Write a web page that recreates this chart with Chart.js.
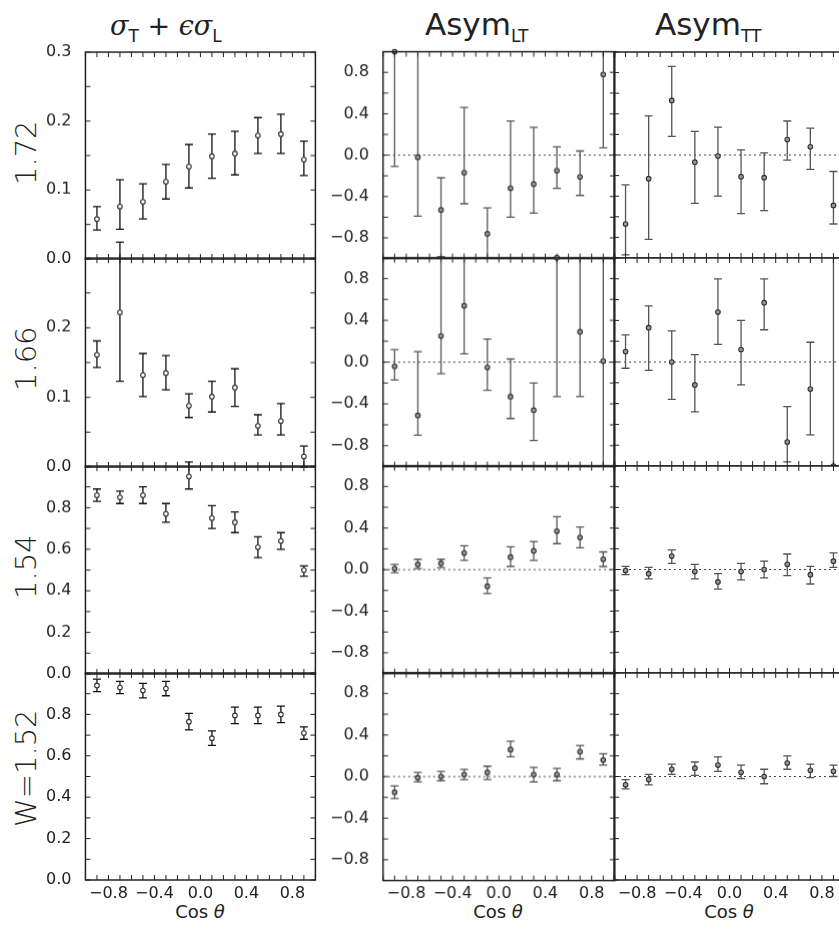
<!DOCTYPE html>
<html>
<head>
<meta charset="utf-8">
<script src="https://cdn.jsdelivr.net/npm/chart.js@4"></script>
<style>
body { margin:0; background:#fff; width:839px; height:933px; overflow:hidden; position:relative; font-family:"DejaVu Sans", Arial, sans-serif; }
.box { position:absolute; }
.lbl { position:absolute; color:#222; white-space:nowrap; }
.rot { transform:rotate(-90deg); transform-origin:center center; font-size:29px; font-family:"DejaVu Sans", sans-serif; font-weight:300; }
.ttl { font-size:27px; }
.ttl sub { font-size:17px; vertical-align:-7px; }
.cos { font-size:18px; width:120px; text-align:center; top:901px; }
</style>
</head>
<body>
<div class="lbl ttl" style="left:110px;top:10px;"><i style="font-family:'DejaVu Serif',serif">σ</i><sub>T</sub> + <i style="font-family:'DejaVu Serif',serif">ϵσ</i><sub>L</sub></div>
<div class="lbl ttl" style="left:425px;top:6px;font-size:31px;">Asym<sub>LT</sub></div>
<div class="lbl ttl" style="left:655px;top:6px;font-size:31px;">Asym<sub>TT</sub></div>
<div class="lbl rot" style="left:-4px;top:138px;width:60px;text-align:center;">1.72</div>
<div class="lbl rot" style="left:-4px;top:344px;width:60px;text-align:center;">1.66</div>
<div class="lbl rot" style="left:-4px;top:552px;width:60px;text-align:center;">1.54</div>
<div class="lbl rot" style="left:-26px;top:758px;width:104px;text-align:center;">W=1.52</div>
<div class="lbl cos" style="left:140px;">Cos <i>θ</i></div>
<div class="lbl cos" style="left:438px;">Cos <i>θ</i></div>
<div class="lbl cos" style="left:669px;">Cos <i>θ</i></div>

<script>
// Cos theta bin centres
const cosTheta = [-0.9, -0.7, -0.5, -0.3, -0.1, 0.1, 0.3, 0.5, 0.7, 0.9];

// sigma_T + eps sigma_L
const sig172 = [0.058, 0.076, 0.083, 0.112, 0.134, 0.149, 0.153, 0.179, 0.181, 0.144];
const sig172Lo = [0.042, 0.043, 0.058, 0.087, 0.103, 0.117, 0.122, 0.153, 0.153, 0.121];
const sig172Hi = [0.076, 0.115, 0.109, 0.137, 0.166, 0.181, 0.185, 0.205, 0.210, 0.171];
const sig166 = [0.161, 0.222, 0.132, 0.135, 0.088, 0.101, 0.114, 0.059, 0.066, 0.015];
const sig166Lo = [0.143, 0.123, 0.101, 0.111, 0.071, 0.079, 0.087, 0.046, 0.046, 0.0];
const sig166Hi = [0.181, 0.323, 0.163, 0.160, 0.105, 0.123, 0.141, 0.075, 0.091, 0.030];
const sig154 = [0.86, 0.85, 0.86, 0.77, 0.95, 0.75, 0.73, 0.61, 0.64, 0.50];
const sig154Lo = [0.83, 0.82, 0.82, 0.73, 0.89, 0.70, 0.68, 0.56, 0.60, 0.47];
const sig154Hi = [0.89, 0.88, 0.90, 0.82, 1.02, 0.81, 0.78, 0.66, 0.68, 0.52];
const sig152 = [0.94, 0.93, 0.915, 0.925, 0.765, 0.685, 0.795, 0.795, 0.80, 0.71];
const sig152Lo = [0.91, 0.90, 0.88, 0.89, 0.725, 0.65, 0.755, 0.755, 0.76, 0.68];
const sig152Hi = [0.97, 0.96, 0.95, 0.96, 0.805, 0.72, 0.835, 0.835, 0.84, 0.74];

// Asym LT
const lt172 = [1.0, -0.02, -0.53, -0.17, -0.76, -0.32, -0.28, -0.15, -0.21, 0.78];
const lt172Lo = [-0.11, -0.59, -0.98, -0.47, -1.2, -0.60, -0.56, -0.32, -0.39, 0.07];
const lt172Hi = [1.5, 1.2, -0.22, 0.46, -0.51, 0.33, 0.27, 0.08, 0.04, 1.2];
const lt166 = [-0.04, -0.51, 0.25, 0.54, -0.05, -0.33, -0.46, 1.0, 0.29, 0.01];
const lt166Lo = [-0.17, -0.70, -0.11, 0.08, -0.27, -0.54, -0.75, -0.33, -0.33, -1.5];
const lt166Hi = [0.12, 0.10, 1.2, 1.2, 0.22, 0.03, -0.20, 1.5, 1.2, 1.5];
const lt154 = [0.01, 0.05, 0.06, 0.16, -0.16, 0.12, 0.18, 0.37, 0.31, 0.10];
const lt154Lo = [-0.03, 0.01, 0.02, 0.09, -0.23, 0.03, 0.09, 0.25, 0.21, 0.03];
const lt154Hi = [0.05, 0.10, 0.10, 0.23, -0.08, 0.22, 0.27, 0.51, 0.41, 0.17];
const lt152 = [-0.15, -0.01, 0.00, 0.02, 0.04, 0.26, 0.02, 0.02, 0.24, 0.16];
const lt152Lo = [-0.21, -0.05, -0.04, -0.03, -0.03, 0.19, -0.05, -0.04, 0.17, 0.11];
const lt152Hi = [-0.09, 0.04, 0.05, 0.07, 0.10, 0.34, 0.09, 0.08, 0.30, 0.22];

// Asym TT
const tt172 = [-0.67, -0.23, 0.53, -0.07, -0.01, -0.21, -0.22, 0.15, 0.08, -0.49];
const tt172Lo = [-0.97, -0.82, 0.18, -0.47, -0.40, -0.57, -0.54, -0.05, -0.14, -0.67];
const tt172Hi = [-0.29, 0.38, 0.86, 0.23, 0.27, 0.05, 0.02, 0.33, 0.26, -0.16];
const tt166 = [0.10, 0.33, 0.00, -0.22, 0.48, 0.12, 0.57, -0.77, -0.26, -1.0];
const tt166Lo = [-0.06, -0.08, -0.36, -0.48, 0.17, -0.22, 0.31, -0.96, -0.70, -1.5];
const tt166Hi = [0.26, 0.54, 0.30, 0.07, 0.80, 0.40, 0.80, -0.43, 0.19, 1.5];
const tt154 = [-0.01, -0.04, 0.13, -0.02, -0.12, -0.02, 0.00, 0.05, -0.05, 0.08];
const tt154Lo = [-0.05, -0.09, 0.06, -0.09, -0.19, -0.10, -0.08, -0.06, -0.14, 0.02];
const tt154Hi = [0.03, 0.02, 0.19, 0.05, -0.04, 0.06, 0.08, 0.15, 0.03, 0.16];
const tt152 = [-0.08, -0.03, 0.07, 0.08, 0.11, 0.04, 0.00, 0.13, 0.06, 0.05];
const tt152Lo = [-0.12, -0.08, 0.02, 0.01, 0.05, -0.02, -0.07, 0.07, -0.01, 0.00];
const tt152Hi = [-0.03, 0.02, 0.12, 0.14, 0.19, 0.11, 0.07, 0.20, 0.12, 0.11];

const xTicks = [-0.8, -0.4, 0.0, 0.4, 0.8];
const sigTicksA = [0.0, 0.1, 0.2, 0.3];
const sigTicksB = [0.0, 0.1, 0.2];
const sigTicksC = [0.0, 0.2, 0.4, 0.6, 0.8];
const asymTicks = [-0.8, -0.4, 0.0, 0.4, 0.8];

const INK = '#333';
const FONT = '"DejaVu Sans", Arial, sans-serif';

// error bars, frame, inward tick marks, dotted zero line
const panelPlugin = {
    id: 'panel',
    beforeDatasetsDraw(chart, args, o) {
        const {ctx, chartArea: a, scales: {x, y}} = chart;
        ctx.save();
        if (o.zero) {
            ctx.setLineDash([2, 3]);
            ctx.strokeStyle = '#444';
            ctx.lineWidth = 1;
            const y0 = y.getPixelForValue(0);
            ctx.beginPath(); ctx.moveTo(a.left, y0); ctx.lineTo(a.right, y0); ctx.stroke();
            ctx.setLineDash([]);
        }
        ctx.strokeStyle = o.barColor;
        ctx.lineWidth = 1.3;
        cosTheta.forEach((c, i) => {
            let lo = o.lo[i], hi = o.hi[i];
            const loC = lo < o.cmin, hiC = hi > o.cmax;
            lo = Math.max(lo, o.cmin); hi = Math.min(hi, o.cmax);
            const px = x.getPixelForValue(c);
            const p1 = y.getPixelForValue(lo), p2 = y.getPixelForValue(hi);
            ctx.beginPath(); ctx.moveTo(px, p1); ctx.lineTo(px, p2);
            if (!loC) { ctx.moveTo(px - 4, p1); ctx.lineTo(px + 4, p1); }
            if (!hiC) { ctx.moveTo(px - 4, p2); ctx.lineTo(px + 4, p2); }
            ctx.stroke();
        });
        ctx.restore();
    },
    afterDraw(chart, args, o) {
        const {ctx, chartArea: a, scales: {x, y}} = chart;
        ctx.save();
        ctx.strokeStyle = '#222';
        ctx.lineWidth = 1.5;
        ctx.strokeRect(a.left, a.top, a.right - a.left, a.bottom - a.top);
        ctx.lineWidth = 1;
        for (let v = -1; v <= 1.0001; v += 0.1) {
            const px = x.getPixelForValue(v);
            ctx.beginPath();
            ctx.moveTo(px, a.bottom); ctx.lineTo(px, a.bottom - 5);
            ctx.moveTo(px, a.top); ctx.lineTo(px, a.top + 5);
            ctx.stroke();
        }
        for (let v = y.min; v <= y.max + 1e-6; v += o.yMinor) {
            const py = y.getPixelForValue(v);
            ctx.beginPath();
            ctx.moveTo(a.left, py); ctx.lineTo(a.left + 5, py);
            ctx.moveTo(a.right, py); ctx.lineTo(a.right - 5, py);
            ctx.stroke();
        }
        ctx.restore();
    }
};
Chart.register(panelPlugin);

function fmt(v) {
    return (v < 0 ? '\u2212' : '') + Math.abs(v).toFixed(1);
}

function makePanel(opt) {
    const L = opt.yLabels ? 60 : 0, T = opt.top, R = 6, B = opt.xLabels ? 30 : 6;
    const div = document.createElement('div');
    div.className = 'box';
    let left = opt.x0 - L, top = opt.y0 - T;
    let width = L + opt.w + R, height = T + opt.h + B;
    const place = () => {
        div.style.left = left + 'px';
        div.style.top = top + 'px';
        div.style.width = width + 'px';
        div.style.height = height + 'px';
    };
    place();
    const cv = document.createElement('canvas');
    div.appendChild(cv);
    document.body.appendChild(div);

    const chart = new Chart(cv.getContext('2d'), {
        type: 'scatter',
        data: {
            datasets: [{
                data: cosTheta.map((c, i) => ({x: c, y: opt.vals[i]})),
                pointRadius: 2.3,
                pointBorderWidth: 1.1,
                pointBorderColor: INK,
                pointBackgroundColor: opt.fill,
                clip: 6
            }]
        },
        options: {
            responsive: true,
            maintainAspectRatio: false,
            animation: false,
            layout: {autoPadding: false, padding: {left: 0, top: T, right: R, bottom: 0}},
            plugins: {
                legend: {display: false},
                tooltip: {enabled: false},
                panel: {lo: opt.lo, hi: opt.hi, cmin: opt.cmin, cmax: opt.cmax,
                        zero: opt.zero, yMinor: opt.yMinor, barColor: opt.barColor}
            },
            scales: {
                x: {
                    type: 'linear', min: -1, max: 1,
                    grid: {display: false, tickLength: 0}, border: {display: false},
                    afterBuildTicks: s => { s.ticks = xTicks.map(v => ({value: v})); },
                    ticks: {display: opt.xLabels, padding: 4, color: '#222',
                            font: {family: FONT, size: 16}, maxRotation: 0,
                            callback: v => fmt(v)}
                },
                y: {
                    min: opt.ymin, max: opt.ymax,
                    grid: {display: false}, border: {display: false},
                    afterBuildTicks: s => { s.ticks = opt.yTicks.map(v => ({value: v})); },
                    ticks: {display: opt.yLabels, padding: 6, color: '#222',
                            font: {family: FONT, size: 16}, callback: v => fmt(v)}
                }
            }
        }
    });

    // shift and resize the box until the plot area sits on the target rectangle
    for (let k = 0; k < 3; k++) {
        const a = chart.chartArea;
        left = left + (opt.x0 - (left + a.left));
        top = top + (opt.y0 - (top + a.top));
        width = width + (opt.w - (a.right - a.left));
        height = height + (opt.h - (a.bottom - a.top));
        place();
        chart.resize(width, height);
    }
}

const colX = [85, 383, 614];
const colW = [230, 231, 231];
const rowY = [52, 258, 466, 673];
const rowH = [206, 208, 207, 207];

const sigRows = [[sig172, sig172Lo, sig172Hi, sigTicksA, 0.3, 0.05],
                 [sig166, sig166Lo, sig166Hi, sigTicksB, 0.3, 0.05],
                 [sig154, sig154Lo, sig154Hi, sigTicksC, 1.0, 0.1],
                 [sig152, sig152Lo, sig152Hi, sigTicksC, 1.0, 0.1]];
const ltRows = [[lt172, lt172Lo, lt172Hi], [lt166, lt166Lo, lt166Hi],
                [lt154, lt154Lo, lt154Hi], [lt152, lt152Lo, lt152Hi]];
const ttRows = [[tt172, tt172Lo, tt172Hi], [tt166, tt166Lo, tt166Hi],
                [tt154, tt154Lo, tt154Hi], [tt152, tt152Lo, tt152Hi]];

for (let r = 0; r < 4; r++) {
    const s = sigRows[r];
    makePanel({x0: colX[0], y0: rowY[r], w: colW[0], h: rowH[r], top: 24,
               vals: s[0], lo: s[1], hi: s[2], yTicks: s[3], ymin: 0, ymax: s[4], yMinor: s[5],
               cmin: -10, cmax: 10, zero: false, yLabels: true, xLabels: r === 3,
               fill: '#fff', barColor: '#111'});
    [ltRows, ttRows].forEach((rows, k) => {
        const d = rows[r];
        makePanel({x0: colX[k + 1], y0: rowY[r], w: colW[k + 1], h: rowH[r], top: 6,
                   vals: d[0], lo: d[1], hi: d[2], yTicks: asymTicks, ymin: -1, ymax: 1, yMinor: 0.2,
                   cmin: -1, cmax: 1, zero: true, yLabels: k === 0, xLabels: r === 3,
                   fill: '#999', barColor: '#555'});
    });
}
</script>
</body>
</html>
